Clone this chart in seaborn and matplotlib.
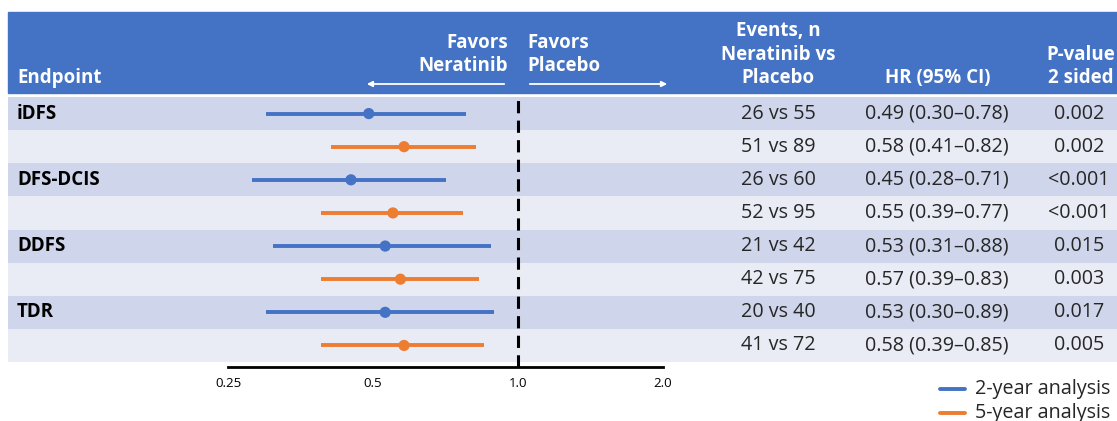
import matplotlib
matplotlib.use("Agg")
import matplotlib.pyplot as plt
import seaborn as sns
import pandas as pd
from matplotlib.patches import Rectangle, FancyArrowPatch
from matplotlib.lines import Line2D

endpoints = ["iDFS", "", "DFS-DCIS", "", "DDFS", "", "TDR", ""]
analysis = ["2-year analysis", "5-year analysis"] * 4
hr = [0.49, 0.58, 0.45, 0.55, 0.53, 0.57, 0.53, 0.58]
lo = [0.30, 0.41, 0.28, 0.39, 0.31, 0.39, 0.30, 0.39]
hi = [0.78, 0.82, 0.71, 0.77, 0.88, 0.83, 0.89, 0.85]
events = ["26 vs 55", "51 vs 89", "26 vs 60", "52 vs 95",
          "21 vs 42", "42 vs 75", "20 vs 40", "41 vs 72"]
pvals = ["0.002", "0.002", "<0.001", "<0.001", "0.015", "0.003", "0.017", "0.005"]
ticks = [0.25, 0.5, 1.0, 2.0]
tick_labels = ["0.25", "0.5", "1.0", "2.0"]

BLUE = "#4472C4"
ORANGE = "#ED7D31"
TXT = "#262626"
palette = {"2-year analysis": BLUE, "5-year analysis": ORANGE}

df = pd.DataFrame({"endpoint": endpoints, "analysis": analysis, "hr": hr,
                   "lo": lo, "hi": hi, "events": events, "p": pvals})
df["row"] = range(len(df))
df["hr_txt"] = [f"{h:.2f} ({l:.2f}\u2013{u:.2f})" for h, l, u in zip(hr, lo, hi)]

sns.set_theme(style="white")
plt.rcParams["font.family"] = ["Open Sans", "DejaVu Sans"]

W, H = 1117, 421
FS = 13.5   # header / bold labels
FB = 14.2   # body values
fig = plt.figure(figsize=(W / 100, H / 100), dpi=100)


def fx(px):
    return px / W


def fy(py):
    return 1 - py / H


# header bar
fig.patches.append(Rectangle((fx(8), fy(93)), fx(1117 - 8), 81 / H,
                             transform=fig.transFigure, color=BLUE, zorder=0))
hdr = dict(color="white", fontweight="bold", fontsize=FS)
fig.text(fx(17), fy(78), "Endpoint", ha="left", va="center", **hdr)
fig.text(fx(508), fy(43), "Favors", ha="right", va="center", **hdr)
fig.text(fx(508), fy(66), "Neratinib", ha="right", va="center", **hdr)
fig.text(fx(527), fy(43), "Favors", ha="left", va="center", **hdr)
fig.text(fx(527), fy(66), "Placebo", ha="left", va="center", **hdr)
fig.text(fx(778), fy(31), "Events, n", ha="center", va="center", **hdr)
fig.text(fx(778), fy(55), "Neratinib vs", ha="center", va="center", **hdr)
fig.text(fx(778), fy(78), "Placebo", ha="center", va="center", **hdr)
fig.text(fx(938), fy(78), "HR (95% CI)", ha="center", va="center", **hdr)
fig.text(fx(1081), fy(55), "P-value", ha="center", va="center", **hdr)
fig.text(fx(1081), fy(78), "2 sided", ha="center", va="center", **hdr)
for x0, x1 in [(507, 364), (527, 670)]:
    fig.add_artist(FancyArrowPatch(
        (fx(x0), fy(84)), (fx(x1), fy(84)), transform=fig.transFigure,
        arrowstyle="-|>", mutation_scale=8, color="white", lw=1.3))

# main forest axes, log2 x scale: 0.25 at px 228, 2.0 at px 663
top, bot = 97, 362
ax = fig.add_axes([fx(8), fy(bot), fx(1117 - 8), (bot - top) / H])
ax.set_xscale("log", base=2)
per_px = 3 / (663 - 228)
ax.set_xlim(2 ** (-2 + (8 - 228) * per_px), 2 ** (-2 + (1117 - 228) * per_px))
ax.set_ylim(len(df) - 0.5, -0.5)
for i in range(len(df)):
    ax.axhspan(i - 0.5, i + 0.5, color="#CFD5EA" if i % 2 == 0 else "#E9EBF5",
               lw=0, zorder=0)
ax.hlines(df["row"], df["lo"], df["hi"],
          colors=[palette[a] for a in df["analysis"]], lw=2.8, zorder=2)
sns.scatterplot(data=df, x="hr", y="row", hue="analysis", palette=palette,
                s=65, edgecolor="none", legend=False, ax=ax, zorder=3)
ax.axvline(1.0, ymin=-0.02, ymax=0.99, color="black", lw=2.2, ls=(0, (4, 2.4)),
           zorder=4, clip_on=False)
ax.set_axis_off()

yt = ax.get_yaxis_transform()
for _, r in df.iterrows():
    ax.text((17 - 8) / (1117 - 8), r["row"], r["endpoint"], transform=yt,
            ha="left", va="center", fontsize=FS, fontweight="bold", color="black")
    for px, col in [(778, "events"), (937, "hr_txt"), (1079, "p")]:
        ax.text((px - 8) / (1117 - 8), r["row"], r[col], transform=yt,
                ha="center", va="center", fontsize=FB, color=TXT)

# bottom scale
ax2 = fig.add_axes([fx(8), fy(367), fx(1117 - 8), 0.001])
ax2.set_xscale("log", base=2)
ax2.set_xlim(ax.get_xlim())
for s in ["top", "left", "right"]:
    ax2.spines[s].set_visible(False)
ax2.spines["bottom"].set_bounds(0.25, 2.0)
ax2.spines["bottom"].set_linewidth(2)
ax2.spines["bottom"].set_color("black")
ax2.set_yticks([])
ax2.set_xticks(ticks)
ax2.set_xticklabels(tick_labels)
ax2.minorticks_off()
ax2.tick_params(axis="x", direction="inout", length=11, width=1.6,
                labelsize=9.5, pad=2, colors="black")
ax2.set_facecolor("none")

# legend
for i, (lab, c) in enumerate(palette.items()):
    yy = 389 + i * 24
    fig.add_artist(Line2D([fx(940), fx(965)], [fy(yy), fy(yy)], color=c, lw=2.8))
    fig.text(fx(975), fy(yy), lab, ha="left", va="center", fontsize=FB, color=TXT)

fig.savefig("out.png", dpi=100)
plt.close(fig)
